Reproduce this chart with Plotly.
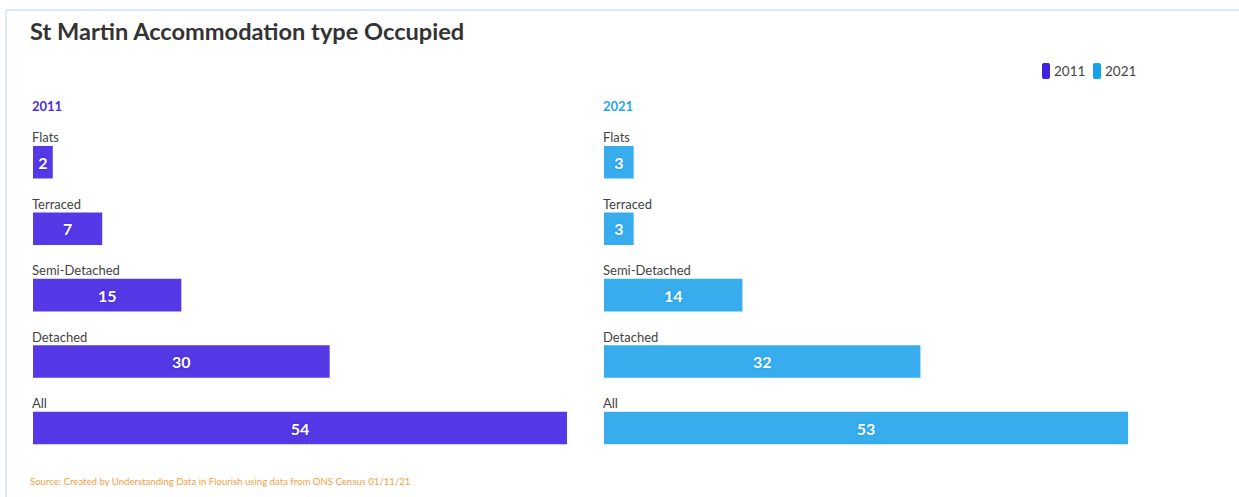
import plotly.graph_objects as go

categories = ["Flats", "Terraced", "Semi-Detached", "Detached", "All"]
values_2011 = [2, 7, 15, 30, 54]
values_2021 = [3, 3, 14, 32, 53]
series_names = ["2011", "2021"]

title_text = "St Martin Accommodation type Occupied"
source_text = "Source: Created by Understanding Data in Flourish using data from ONS Census 01/11/21"

bar_colors = ["#5539e6", "#37adee"]
legend_colors = ["#3e22e0", "#14a3ea"]
shadow_colors = ["#3a1fd6", "#1a98e0"]
title_colors = ["#4a2ee6", "#29a5e8"]

FONT = "Lato"
W, H = 1239, 497
ML, MR, MT, MB = 33, 101, 129, 34
pw = W - ML - MR
ph = H - MT - MB

def px_x(p):
    return (p - ML) / pw

def px_y(p):
    return (H - MB - p) / ph

fig = go.Figure()

vals = [values_2011, values_2021]
for i, name in enumerate(series_names):
    fig.add_trace(go.Bar(
        y=categories, x=vals[i], orientation="h",
        name=name,
        marker=dict(color=bar_colors[i], line=dict(width=0)),
        width=0.49,
        text=[str(v) for v in vals[i]],
        textposition="inside", insidetextanchor="middle",
        constraintext="none",
        textfont=dict(family=FONT, size=16, color="white", weight="bold",
                      shadow="0px 0px 3px " + shadow_colors[i]),
        xaxis="x" if i == 0 else "x2", yaxis="y" if i == 0 else "y2",
        hoverinfo="skip", showlegend=False,
    ))

xmax = max(max(values_2011), max(values_2021))
d1 = [0, px_x(33 + 534)]
d2 = [px_x(604), 1.0]

fig.update_layout(
    width=W, height=H,
    margin=dict(l=ML, r=MR, t=MT, b=MB),
    paper_bgcolor="white", plot_bgcolor="white",
    font=dict(family=FONT, color="#333333"),
    barmode="overlay",
    xaxis=dict(domain=d1, range=[0, xmax], visible=False, fixedrange=True),
    xaxis2=dict(domain=d2, range=[0, xmax], visible=False, fixedrange=True),
    yaxis=dict(anchor="x", categoryorder="array", categoryarray=categories,
               autorange="reversed", visible=False),
    yaxis2=dict(anchor="x2", categoryorder="array", categoryarray=categories,
                autorange="reversed", visible=False),
    showlegend=False,
)

annotations = []
for i, name in enumerate(series_names):
    xr = "x" if i == 0 else "x2"
    yr = "y" if i == 0 else "y2"
    for c in categories:
        annotations.append(dict(x=0, y=c, xref=xr, yref=yr, text=c, showarrow=False,
                                xanchor="left", yanchor="bottom", yshift=15, xshift=-3,
                                font=dict(family=FONT, size=13, color="#444444")))
    annotations.append(dict(x=0, y=px_y(106), xref=xr, yref="paper", text="<b>" + name + "</b>",
                            showarrow=False, xanchor="left", yanchor="middle", xshift=-3,
                            font=dict(family=FONT, size=13, color=title_colors[i])))

# legend (manual), rounded swatches
legend_x = [1042, 1093]
for i, name in enumerate(series_names):
    x0 = legend_x[i]
    xa, xb = px_x(x0), px_x(x0 + 8)
    ya, yb = px_y(79), px_y(63)
    rx = 2 / pw
    ry = 2 / ph
    path = (f"M {xa+rx},{ya} L {xb-rx},{ya} Q {xb},{ya} {xb},{ya+ry} "
            f"L {xb},{yb-ry} Q {xb},{yb} {xb-rx},{yb} L {xa+rx},{yb} "
            f"Q {xa},{yb} {xa},{yb-ry} L {xa},{ya+ry} Q {xa},{ya} {xa+rx},{ya} Z")
    fig.add_shape(type="path", xref="paper", yref="paper", path=path,
                  fillcolor=legend_colors[i], line=dict(width=0))
    annotations.append(dict(x=px_x(x0 + 10), y=px_y(71), xref="paper", yref="paper",
                            text=name, showarrow=False, xanchor="left", yanchor="middle",
                            font=dict(family=FONT, size=13.5, color="#444444")))

annotations.append(dict(x=px_x(28), y=px_y(31), xref="paper", yref="paper",
                        text="<b>" + title_text + "</b>", showarrow=False,
                        xanchor="left", yanchor="middle",
                        font=dict(family=FONT, size=23.6, color="#333333")))
annotations.append(dict(x=px_x(28), y=px_y(481), xref="paper", yref="paper",
                        text=source_text, showarrow=False,
                        xanchor="left", yanchor="middle",
                        font=dict(family=FONT, size=9.6, color="#f5a040")))
fig.update_layout(annotations=annotations)

fig.add_shape(type="line", xref="paper", yref="paper",
              x0=px_x(6), x1=px_x(W + 5), y0=px_y(10), y1=px_y(10),
              line=dict(color="#cfe3f3", width=1.5))
fig.add_shape(type="line", xref="paper", yref="paper",
              x0=px_x(6), x1=px_x(6), y0=px_y(10), y1=px_y(H + 5),
              line=dict(color="#cfe3f3", width=1.5))

fig.write_html("out.html", config={"displayModeBar": False},
               post_script="document.body.style.margin='0';")
